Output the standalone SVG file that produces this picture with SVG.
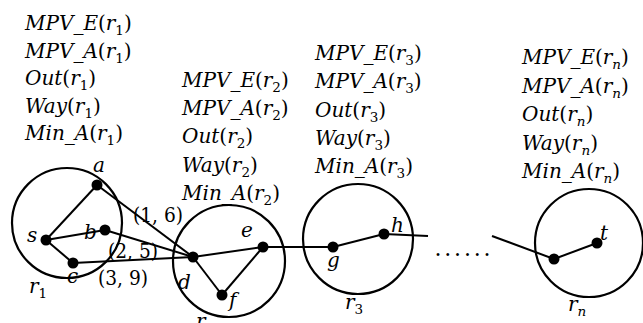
<svg xmlns="http://www.w3.org/2000/svg" width="643" height="323" viewBox="0 0 643 323">
<style>
text{font-family:'DejaVu Serif','Liberation Serif',serif;font-size:20px;fill:#000}
.i{font-style:italic}
.s{font-size:13.5px;font-style:normal}
.si{font-size:13.5px;font-style:italic}
.ln{stroke:#000;stroke-width:2;fill:none}
.rg{stroke:#000;stroke-width:2.2;fill:none}
.nd{fill:#000}
</style>
<rect width="643" height="323" fill="#fff"/>
<g id="region-r1-text">
<text x="25" y="30"><tspan class="i">MPV_E</tspan>(<tspan class="i">r</tspan><tspan class="s" dy="5">1</tspan><tspan dy="-5">)</tspan></text>
<text x="25" y="57.5"><tspan class="i">MPV_A</tspan>(<tspan class="i">r</tspan><tspan class="s" dy="5">1</tspan><tspan dy="-5">)</tspan></text>
<text x="25" y="85"><tspan class="i">Out</tspan>(<tspan class="i">r</tspan><tspan class="s" dy="5">1</tspan><tspan dy="-5">)</tspan></text>
<text x="25" y="112.5"><tspan class="i">Way</tspan>(<tspan class="i">r</tspan><tspan class="s" dy="5">1</tspan><tspan dy="-5">)</tspan></text>
<text x="25" y="140"><tspan class="i">Min_A</tspan>(<tspan class="i">r</tspan><tspan class="s" dy="5">1</tspan><tspan dy="-5">)</tspan></text>
</g>
<g id="region-r2-text">
<text x="182" y="87"><tspan class="i">MPV_E</tspan>(<tspan class="i">r</tspan><tspan class="s" dy="5">2</tspan><tspan dy="-5">)</tspan></text>
<text x="182" y="115"><tspan class="i">MPV_A</tspan>(<tspan class="i">r</tspan><tspan class="s" dy="5">2</tspan><tspan dy="-5">)</tspan></text>
<text x="182" y="143"><tspan class="i">Out</tspan>(<tspan class="i">r</tspan><tspan class="s" dy="5">2</tspan><tspan dy="-5">)</tspan></text>
<text x="182" y="171.5"><tspan class="i">Way</tspan>(<tspan class="i">r</tspan><tspan class="s" dy="5">2</tspan><tspan dy="-5">)</tspan></text>
<text x="182" y="200"><tspan class="i">Min_A</tspan>(<tspan class="i">r</tspan><tspan class="s" dy="5">2</tspan><tspan dy="-5">)</tspan></text>
</g>
<g id="region-r3-text">
<text x="315" y="60"><tspan class="i">MPV_E</tspan>(<tspan class="i">r</tspan><tspan class="s" dy="5">3</tspan><tspan dy="-5">)</tspan></text>
<text x="315" y="88"><tspan class="i">MPV_A</tspan>(<tspan class="i">r</tspan><tspan class="s" dy="5">3</tspan><tspan dy="-5">)</tspan></text>
<text x="315" y="116.5"><tspan class="i">Out</tspan>(<tspan class="i">r</tspan><tspan class="s" dy="5">3</tspan><tspan dy="-5">)</tspan></text>
<text x="315" y="145"><tspan class="i">Way</tspan>(<tspan class="i">r</tspan><tspan class="s" dy="5">3</tspan><tspan dy="-5">)</tspan></text>
<text x="315" y="173"><tspan class="i">Min_A</tspan>(<tspan class="i">r</tspan><tspan class="s" dy="5">3</tspan><tspan dy="-5">)</tspan></text>
</g>
<g id="region-rn-text">
<text x="522" y="64"><tspan class="i">MPV_E</tspan>(<tspan class="i">r</tspan><tspan class="si" dy="5">n</tspan><tspan dy="-5">)</tspan></text>
<text x="522" y="92.5"><tspan class="i">MPV_A</tspan>(<tspan class="i">r</tspan><tspan class="si" dy="5">n</tspan><tspan dy="-5">)</tspan></text>
<text x="522" y="121"><tspan class="i">Out</tspan>(<tspan class="i">r</tspan><tspan class="si" dy="5">n</tspan><tspan dy="-5">)</tspan></text>
<text x="522" y="149.5"><tspan class="i">Way</tspan>(<tspan class="i">r</tspan><tspan class="si" dy="5">n</tspan><tspan dy="-5">)</tspan></text>
<text x="522" y="178"><tspan class="i">Min_A</tspan>(<tspan class="i">r</tspan><tspan class="si" dy="5">n</tspan><tspan dy="-5">)</tspan></text>
</g>
<g id="region-r1">
<circle class="rg" cx="67" cy="223" r="55"/>
<text class="i" x="29" y="293">r<tspan class="s" dy="5">1</tspan></text>
</g>
<g id="region-r2">
<circle class="rg" cx="229" cy="261" r="56"/>
<text class="i" x="196" y="328">r<tspan class="s" dy="5">2</tspan></text>
</g>
<g id="region-r3">
<circle class="rg" cx="358" cy="239" r="55"/>
<text class="i" x="345" y="309">r<tspan class="s" dy="5">3</tspan></text>
</g>
<g id="region-rn">
<circle class="rg" cx="589" cy="243" r="54"/>
<text class="i" x="568" y="311">r<tspan class="si" dy="5">n</tspan></text>
</g>
<g id="connectors" class="ln">
<line x1="46" y1="240" x2="97" y2="185"/>
<line x1="46" y1="240" x2="105" y2="230"/>
<line x1="46" y1="240" x2="73" y2="263"/>
<line x1="97" y1="185" x2="193" y2="257"/>
<line x1="105" y1="230" x2="193" y2="257"/>
<line x1="73" y1="263" x2="193" y2="257"/>
<line x1="193" y1="257" x2="263" y2="247"/>
<line x1="193" y1="257" x2="222" y2="295"/>
<line x1="222" y1="295" x2="263" y2="247"/>
<line x1="263" y1="247" x2="333" y2="247"/>
<line x1="333" y1="247" x2="384" y2="234"/>
<line x1="384" y1="234" x2="428" y2="236"/>
<line x1="492" y1="236" x2="554" y2="259"/>
<line x1="554" y1="259" x2="597" y2="243"/>
</g>
<g id="edge-labels">
<text x="133" y="222" textLength="50" lengthAdjust="spacingAndGlyphs">(1, 6)</text>
<text x="108" y="258" textLength="50" lengthAdjust="spacingAndGlyphs">(2, 5)</text>
<text x="98" y="285" textLength="50" lengthAdjust="spacingAndGlyphs">(3, 9)</text>
<text x="434.5" y="256" letter-spacing="2.8" style="font-size:22px">......</text>
</g>
<g id="node-s"><circle class="nd" cx="46" cy="240" r="5.5"/><text class="i" x="27" y="242">s</text></g>
<g id="node-a"><circle class="nd" cx="97" cy="185" r="5.5"/><text class="i" x="93" y="172">a</text></g>
<g id="node-b"><circle class="nd" cx="105" cy="230" r="5.5"/><text class="i" x="84" y="239">b</text></g>
<g id="node-c"><circle class="nd" cx="73" cy="263" r="5.5"/><text class="i" x="67" y="283">c</text></g>
<g id="node-d"><circle class="nd" cx="193" cy="257" r="5.5"/><text class="i" x="178" y="289">d</text></g>
<g id="node-e"><circle class="nd" cx="263" cy="247" r="5.5"/><text class="i" x="241" y="237">e</text></g>
<g id="node-f"><circle class="nd" cx="222" cy="295" r="5.5"/><text class="i" x="229" y="307">f</text></g>
<g id="node-g"><circle class="nd" cx="333" cy="247" r="5.5"/><text class="i" x="327" y="267">g</text></g>
<g id="node-h"><circle class="nd" cx="384" cy="234" r="5.5"/><text class="i" x="391" y="232">h</text></g>
<g id="node-rn-entry"><circle class="nd" cx="554" cy="259" r="5.5"/></g>
<g id="node-t"><circle class="nd" cx="597" cy="243" r="5.5"/><text class="i" x="600" y="240">t</text></g>
</svg>
